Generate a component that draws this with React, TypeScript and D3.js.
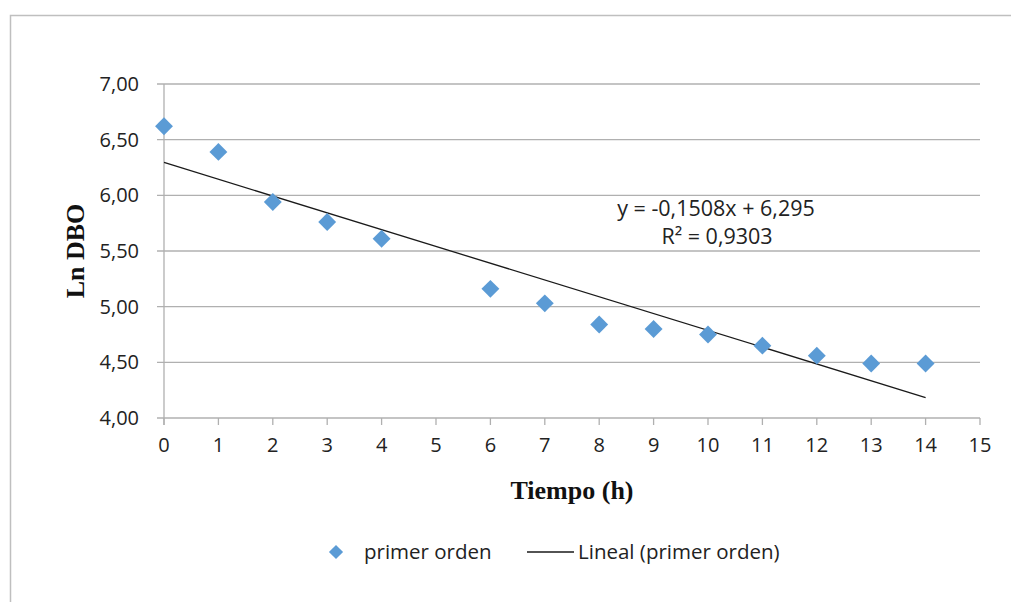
import React from "react";
import * as d3 from "d3";

// Ln DBO measurements per hour (first-order decay)
const tiempo = [0, 1, 2, 3, 4, 6, 7, 8, 9, 10, 11, 12, 13, 14];
const lnDBO = [6.62, 6.39, 5.94, 5.76, 5.61, 5.16, 5.03, 4.84, 4.8, 4.75, 4.65, 4.56, 4.49, 4.49];
const xTicks = [0, 1, 2, 3, 4, 5, 6, 7, 8, 9, 10, 11, 12, 13, 14, 15];
const yTicks = [4.0, 4.5, 5.0, 5.5, 6.0, 6.5, 7.0];
// Linear trendline coefficients
const slope = -0.1508;
const intercept = 6.295;
const r2 = "0,9303";

const W = 1011;
const H = 602;
const left = 164;
const right = 980;
const top = 84;
const bottom = 418;

const labelFont = "'Open Sans', 'Liberation Sans', sans-serif";
const titleFont = "'Liberation Serif', 'Times New Roman', serif";

export default function App() {
  const x = d3.scaleLinear().domain([0, 15]).range([left, right]);
  const y = d3.scaleLinear().domain([4, 7]).range([bottom, top]);
  const fmt = (v: number) => v.toFixed(2).replace(".", ",");
  const diamond = d3.symbol().type(d3.symbolSquare).size(160)();
  const trend = d3.line<number>()
    .x((d) => x(d))
    .y((d) => y(intercept + slope * d));

  return (
    <svg width={W} height={H} style={{ position: "absolute", left: 0, top: 0 }}>
      <rect x={0} y={0} width={W} height={H} fill="#ffffff" />
      {/* outer chart frame */}
      <rect x={10.5} y={15.5} width={W + 10} height={H + 10} fill="none" stroke="#bfbfbf" strokeWidth={1.5} />

      {/* horizontal gridlines with outward ticks */}
      {yTicks.map((t) => (
        <g key={t}>
          <line x1={left - 7} x2={right} y1={y(t)} y2={y(t)} stroke="#b0b0b0" strokeWidth={1.3} />
          <text x={left - 25} y={y(t)} dy="0.35em" textAnchor="end" fontFamily={labelFont} fontSize={20} fill="#222">
            {fmt(t)}
          </text>
        </g>
      ))}

      {/* vertical axis line */}
      <line x1={left} x2={left} y1={top} y2={bottom + 7} stroke="#b0b0b0" strokeWidth={1.3} />

      {/* x ticks and labels */}
      {xTicks.map((t) => (
        <g key={t}>
          <line x1={x(t)} x2={x(t)} y1={bottom} y2={bottom + 7} stroke="#b0b0b0" strokeWidth={1.3} />
          <text x={x(t)} y={bottom + 34} textAnchor="middle" fontFamily={labelFont} fontSize={20} fill="#222">
            {t}
          </text>
        </g>
      ))}

      {/* trendline */}
      <path d={trend([0, 14]) ?? ""} fill="none" stroke="#1a1a1a" strokeWidth={1.3} />

      {/* data points */}
      {tiempo.map((t, i) => (
        <path
          key={t}
          d={diamond ?? ""}
          transform={`translate(${x(t)},${y(lnDBO[i])}) rotate(45)`}
          fill="#5b9bd5"
        />
      ))}

      {/* regression label */}
      <text x={716} y={208} dy="0.35em" textAnchor="middle" fontFamily={labelFont} fontSize={21.5} fill="#222">
        y = -0,1508x + 6,295
      </text>
      <text x={717} y={236} dy="0.35em" textAnchor="middle" fontFamily={labelFont} fontSize={21.5} fill="#222">
        R² = {r2}
      </text>

      {/* axis titles */}
      <text
        transform={`translate(75,${(top + bottom) / 2}) rotate(-90)`}
        textAnchor="middle"
        dy="0.35em"
        fontFamily={titleFont}
        fontWeight="bold"
        fontSize={26}
        fill="#111"
      >
        Ln DBO
      </text>
      <text x={572} y={490} dy="0.35em" textAnchor="middle" fontFamily={titleFont} fontWeight="bold" fontSize={26} fill="#111">
        Tiempo (h)
      </text>

      {/* legend */}
      <path d={d3.symbol().type(d3.symbolSquare).size(100)() ?? ""} transform="translate(336,552) rotate(45)" fill="#5b9bd5" />
      <text x={364} y={552} dy="0.35em" fontFamily={labelFont} fontSize={20.5} fill="#222">
        primer orden
      </text>
      <line x1={527} x2={574} y1={552} y2={552} stroke="#1a1a1a" strokeWidth={1.3} />
      <text x={578} y={552} dy="0.35em" fontFamily={labelFont} fontSize={20.5} fill="#222">
        Lineal (primer orden)
      </text>
    </svg>
  );
}
